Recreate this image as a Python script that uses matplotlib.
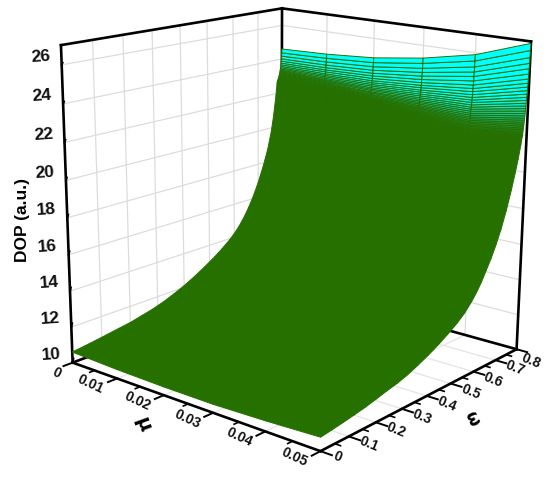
import numpy as np
import matplotlib
matplotlib.use('Agg')
import matplotlib.pyplot as plt
from matplotlib.colors import to_rgba
from mpl_toolkits.mplot3d import proj3d

plt.rcParams['font.family'] = ['Liberation Sans', 'DejaVu Sans']

mu = [0, 0.01, 0.02, 0.03, 0.04, 0.05]
top_row = [24.6, 24.7, 24.9, 25.3, 25.9, 26.9]
# rows just under the top edge, drop below top_row per mu column
fine_omega = [0.8, 0.7993, 0.7986, 0.7979, 0.7972, 0.7965, 0.7958, 0.7951, 0.7944, 0.7937,
              0.793, 0.7923, 0.7916, 0.7909, 0.7902, 0.7895, 0.7888, 0.7881, 0.7874, 0.7867,
              0.786, 0.7853, 0.7846, 0.7839, 0.7832, 0.7825, 0.7818, 0.7811, 0.7804, 0.7797]
fine_drop = [
    [0, 0, 0, 0, 0, 0],
    [0.23, 0.24, 0.27, 0.29, 0.34, 0.37],
    [0.42, 0.45, 0.50, 0.56, 0.66, 0.74],
    [0.58, 0.63, 0.70, 0.79, 0.93, 1.04],
    [0.715, 0.78, 0.87, 0.99, 1.17, 1.32],
    [0.83, 0.91, 1.02, 1.18, 1.41, 1.60],
    [0.93, 1.02, 1.16, 1.35, 1.63, 1.86],
    [1.02, 1.13, 1.29, 1.50, 1.82, 2.08],
    [1.10, 1.22, 1.40, 1.63, 1.99, 2.28],
    [1.17, 1.30, 1.50, 1.76, 2.15, 2.47],
    [1.235, 1.38, 1.59, 1.87, 2.30, 2.65],
    [1.295, 1.45, 1.68, 1.98, 2.44, 2.82],
    [1.35, 1.51, 1.76, 2.08, 2.57, 2.98],
    [1.40, 1.57, 1.83, 2.18, 2.70, 3.13],
    [1.45, 1.63, 1.91, 2.27, 2.82, 3.27],
    [1.495, 1.69, 1.97, 2.36, 2.93, 3.41],
    [1.54, 1.74, 2.04, 2.44, 3.04, 3.54],
    [1.58, 1.79, 2.10, 2.52, 3.15, 3.67],
    [1.62, 1.84, 2.16, 2.60, 3.25, 3.79],
    [1.655, 1.88, 2.22, 2.67, 3.35, 3.91],
    [1.69, 1.92, 2.27, 2.74, 3.44, 4.02],
    [1.72, 1.96, 2.32, 2.80, 3.53, 4.13],
    [1.75, 2.00, 2.37, 2.87, 3.61, 4.23],
    [1.78, 2.04, 2.42, 2.93, 3.69, 4.33],
    [1.81, 2.07, 2.47, 2.99, 3.78, 4.43],
    [1.84, 2.11, 2.51, 3.05, 3.85, 4.52],
    [1.87, 2.14, 2.56, 3.10, 3.93, 4.61],
    [1.90, 2.18, 2.60, 3.16, 4.00, 4.70],
    [1.93, 2.22, 2.65, 3.22, 4.08, 4.79],
    [1.96, 2.25, 2.69, 3.27, 4.14, 4.87],
]
# how much cyan is left between the dense rows, same order as fine_omega
fine_cyan = [1, 1, 1, 1, 1, 1, 1, 1, 1, 1, 1, 1, 0.95, 0.9, 0.85, 0.8, 0.72, 0.65, 0.58, 0.5,
             0.44, 0.38, 0.32, 0.27, 0.22, 0.17, 0.13, 0.09, 0.05, 0.02]
coarse_omega = [0.775, 0.765, 0.755, 0.74, 0.72, 0.70, 0.68, 0.66, 0.64, 0.62, 0.60, 0.58, 0.55, 0.52,
                0.48, 0.44, 0.40, 0.36, 0.32, 0.28, 0.24, 0.20, 0.16, 0.12, 0.08, 0.04, 0]
coarse_z = [
    [21.9, 21.85, 21.8, 21.75, 21.7, 21.6],
    [20.7, 20.7, 20.75, 20.75, 20.8, 20.85],
    [19.75, 19.75, 19.8, 19.9, 20.05, 20.2],
    [18.75, 18.75, 18.8, 18.9, 19.1, 19.3],
    [17.75, 17.75, 17.75, 17.85, 18.0, 18.25],
    [16.9, 16.9, 16.9, 17.0, 17.15, 17.35],
    [16.17, 16.15, 16.15, 16.25, 16.4, 16.6],
    [15.55, 15.5, 15.5, 15.55, 15.7, 15.95],
    [15.02, 14.95, 14.95, 15.0, 15.15, 15.4],
    [14.58, 14.5, 14.45, 14.5, 14.65, 14.85],
    [14.22, 14.1, 14.05, 14.1, 14.2, 14.4],
    [13.92, 13.8, 13.7, 13.75, 13.85, 14.02],
    [13.54, 13.4, 13.3, 13.3, 13.4, 13.55],
    [13.2, 13.1, 13.0, 13.0, 13.05, 13.2],
    [12.8, 12.7, 12.62, 12.62, 12.68, 12.82],
    [12.43, 12.33, 12.28, 12.28, 12.35, 12.48],
    [12.1, 12.0, 11.95, 11.95, 12.03, 12.18],
    [11.82, 11.72, 11.67, 11.67, 11.75, 11.92],
    [11.57, 11.47, 11.42, 11.42, 11.5, 11.68],
    [11.37, 11.27, 11.22, 11.22, 11.3, 11.5],
    [11.22, 11.1, 11.05, 11.05, 11.15, 11.37],
    [11.07, 10.97, 10.9, 10.9, 11.0, 11.22],
    [10.97, 10.85, 10.8, 10.8, 10.9, 11.08],
    [10.87, 10.76, 10.7, 10.7, 10.8, 10.97],
    [10.77, 10.66, 10.6, 10.6, 10.7, 10.87],
    [10.68, 10.58, 10.52, 10.52, 10.62, 10.78],
    [10.6, 10.5, 10.45, 10.45, 10.55, 10.7],
]
mu_ticks = [0, 0.01, 0.02, 0.03, 0.04, 0.05]
mu_labels = ['0', '0.01', '0.02', '0.03', '0.04', '0.05']
om_ticks = [0, 0.1, 0.2, 0.3, 0.4, 0.5, 0.6, 0.7, 0.8]
om_labels = ['0', '0.1', '0.2', '0.3', '0.4', '0.5', '0.6', '0.7', '0.8']
z_ticks = [10, 12, 14, 16, 18, 20, 22, 24, 26]

GREEN = '#267000'
x0, x1, y0, y1, z0, z1 = 0, 0.05, 0, 0.8, 10, 27
W, H = 550, 479

fig = plt.figure(figsize=(5.5, 4.79), dpi=100)
ax = fig.add_axes([-0.1, -0.2, 1.2, 1.4], projection='3d')
ax.computed_zorder = False
ax.set_xlim(x0, x1)
ax.set_ylim(y0, y1)
ax.set_zlim(z0, z1)
ax.set_axis_off()
ax.apply_aspect()

# camera fitted to where the box corners sit in the picture (pixels from top-left)
corners = [((0, 0, 0), (73, 362)), ((0, 0, 1), (61, 45)), ((0, 1, 1), (282, 8)),
           ((1, 1, 1), (531, 42)), ((1, 1, 0), (517, 348)), ((1, 0, 0), (320, 452)),
           ((0, 1, 0), (281, 285))]
rows = []
to_data = ax.transData.inverted()
for (a, b, c), (px, py) in corners:
    u, v = to_data.transform((px, H - py))
    rows.append([a, b, c, 1, 0, 0, 0, 0, -u * a, -u * b, -u * c, -u])
    rows.append([0, 0, 0, 0, a, b, c, 1, -v * a, -v * b, -v * c, -v])
cam = np.linalg.svd(np.array(rows))[2][-1].reshape(3, 4)
if cam[2] @ np.array([0, 0, 0, 1]) < 0:
    cam = -cam
cam = cam / (cam[2] @ np.array([1, 1, 0, 1]))
scale = np.diag([1 / (x1 - x0), 1 / (y1 - y0), 1 / (z1 - z0), 1.0])
scale[:3, 3] = [-x0 / (x1 - x0), -y0 / (y1 - y0), -z0 / (z1 - z0)]
cam = cam @ scale
M = np.vstack([cam[0], cam[1], [0, 0, 0, -0.5], cam[2]])
ax.get_proj = lambda: M

omega = np.array(coarse_omega[::-1] + fine_omega[::-1])
fine_z = (np.array(top_row) - np.array(fine_drop)).tolist()
Z = np.array(coarse_z[::-1] + fine_z[::-1])
X, Y = np.meshgrid(mu, omega)

green_rgba = np.array(to_rgba(GREEN))
cyan_rgba = np.array(to_rgba('#00ffff'))
face = np.zeros(X.shape[:2] + (4,))
face[:] = green_rgba
for i, c in enumerate(fine_cyan[::-1]):
    face[len(coarse_omega) + i] = c * cyan_rgba + (1 - c) * green_rgba

# walls
for t in om_ticks[1:-1]:
    ax.plot([x0, x0], [t, t], [z0, z1], color='#dcdcdc', lw=0.9, zorder=1)
    ax.plot([x0, x1], [t, t], [z0, z0], color='#e4e4e4', lw=0.9, zorder=1)
for t in mu_ticks[1:-1]:
    ax.plot([t, t], [y1, y1], [z0, z1], color='#dcdcdc', lw=0.9, zorder=1)
    ax.plot([t, t], [y0, y1], [z0, z0], color='#e4e4e4', lw=0.9, zorder=1)
for t in z_ticks:
    ax.plot([x0, x0], [y0, y1], [t, t], color='#dcdcdc', lw=0.9, zorder=1)
    ax.plot([x0, x1], [y1, y1], [t, t], color='#dcdcdc', lw=0.9, zorder=1)

def edge(a, b, z=2):
    ax.plot([a[0], b[0]], [a[1], b[1]], [a[2], b[2]], color='k', lw=1.9, zorder=z,
            solid_capstyle='projecting')

edge((x0, y1, z0), (x0, y1, z1))
edge((x0, y0, z0), (x0, y1, z0))
edge((x0, y1, z0), (x1, y1, z0))
edge((x1, y1, z0), (x1, y1, z1))
edge((x0, y0, z0), (x0, y0, z1))
edge((x0, y0, z1), (x0, y1, z1))
edge((x0, y1, z1), (x1, y1, z1))

ax.plot_surface(X, Y, Z, facecolors=face, edgecolor=GREEN, linewidth=0.7,
                rstride=1, cstride=1, shade=False, zorder=3)

edge((x0, y0, z0), (x1, y0, z0), 4)
edge((x1, y0, z0), (x1, y1, z0), 4)

def tick_label(x, y, z, s, dx, dy, rot, size):
    u, v, _ = proj3d.proj_transform(x, y, z, M)
    ax.annotate(s, (u, v), xytext=(dx, dy), textcoords='offset pixels', rotation=rot,
                fontsize=size, fontweight='bold', color='#111111', ha='center', va='center',
                annotation_clip=False, zorder=5)

for t, s in zip(mu_ticks, mu_labels):
    ax.plot([t, t], [y0, y0 - 0.03], [z0, z0], color='k', lw=1.4, zorder=4)
    if s == '0':
        tick_label(t, y0, z0, s, -16, -10, -25, 10)
    else:
        tick_label(t, y0, z0, s, -26, -6, -25, 10)
for t in [0.005, 0.015, 0.025, 0.035, 0.045]:
    ax.plot([t, t], [y0, y0 - 0.016], [z0, z0], color='k', lw=1.2, zorder=4)
for t, s in zip(om_ticks, om_labels):
    ax.plot([x1, x1 + 0.002], [t, t], [z0, z0], color='k', lw=1.4, zorder=4)
    if s == '0.8':
        tick_label(x1, t, z0, s, 14, -12, -22, 10)
    elif s == '0':
        tick_label(x1, t, z0, s, 17, -6, -22, 10)
    else:
        tick_label(x1, t, z0, s, 20, -8, -22, 10)
for t in [0.05, 0.15, 0.25, 0.35, 0.45, 0.55, 0.65, 0.75]:
    ax.plot([x1, x1 + 0.001], [t, t], [z0, z0], color='k', lw=1.2, zorder=4)
for t in z_ticks:
    ax.plot([x0, x0 - 0.0012], [y0, y0 + 0.02], [t, t], color='k', lw=1.4, zorder=4)
    tick_label(x0, y0, t, str(t), -21, 8, 4, 12.5)

fig.text(143 / W, 1 - 424 / H, '\u03bc', fontsize=14, rotation=-70, fontweight='bold',
         ha='center', va='center', family=['DejaVu Sans'])
fig.text(472 / W, 1 - 418 / H, '\u03c9', fontsize=12, rotation=-65, fontweight='bold',
         ha='center', va='center', family=['DejaVu Sans'])
fig.text(23 / W, 1 - 220 / H, 'DOP (a.u.)', fontsize=12.5, rotation=90, fontweight='bold',
         ha='center', va='center')

fig.savefig('out.png', dpi=100)
